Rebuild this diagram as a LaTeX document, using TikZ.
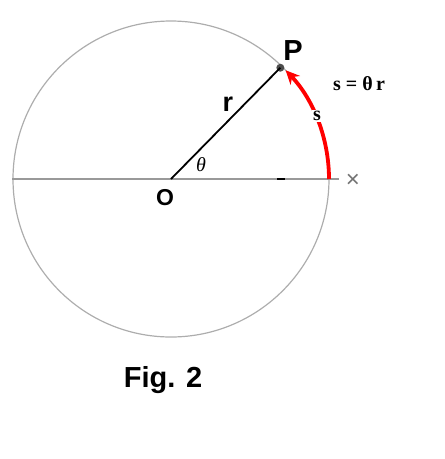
\documentclass[tikz,border=0pt]{standalone}
\usepackage{fontspec}
\setmainfont{Liberation Sans}
\newfontfamily\serifb{Liberation Serif}
\usetikzlibrary{arrows.meta}
\begin{document}
\begin{tikzpicture}[x=1pt,y=1pt,
  circ/.style={draw=black!32, line width=1.2pt},
  axis/.style={draw=black!40, line width=1.5pt},
  radline/.style={draw=black, line width=1.8pt},
  dotnode/.style={circle, fill=black!70, inner sep=0pt, minimum size=8pt},
  sanslab/.style={font=\bfseries\fontsize{#1}{#1}\selectfont, inner sep=0pt},
  seriflab/.style={font=\serifb\bfseries\fontsize{#1}{#1}\selectfont, inner sep=0pt},
  redarc/.style={draw=red, line width=3.8pt, -{Stealth[length=14pt,width=13pt]}}]
\useasboundingbox (0,0) rectangle (445,-459);
\coordinate (O) at (171,-179);
% circle and axis
\draw[circ] (O) circle[radius=158];
\coordinate (L) at (12,-179);
\coordinate (R) at (339,-179);
\draw[axis] (L) -- (R);
\coordinate (T1) at (277,-179);
\coordinate (T2) at (285,-179);
\draw[draw=black, line width=2pt] (T1) -- (T2);
\node[font=\fontsize{24}{24}\selectfont, text=black!55, inner sep=0pt] (X) at (353,-181) {×};
% point P and radius
\path (O) ++(45.5:156) node[dotnode] (P) {};
\draw[radline] (O) -- (P.center);
% red arc
\path (O) ++(0:158) coordinate (A);
\draw[redarc] (A) arc[start angle=0, end angle=43.5, radius=158];
\node[seriflab=20, fill=white, inner sep=1pt] (s) at (317,-116) {s};
% labels
\node[sanslab=29] (Plab) at (293,-51) {P};
\node[sanslab=23] (Olab) at (165,-198) {O};
\node[sanslab=27] (rlab) at (228,-104) {r};
\node[font=\serifb\itshape\fontsize{20}{20}\selectfont, inner sep=0pt] (th) at (201,-165) {θ};
\node[seriflab=20] (eq) at (359,-84) {s = θ\,r};
\node[sanslab=29] (fig) at (163,-380) {Fig. 2};
\end{tikzpicture}
\end{document}
